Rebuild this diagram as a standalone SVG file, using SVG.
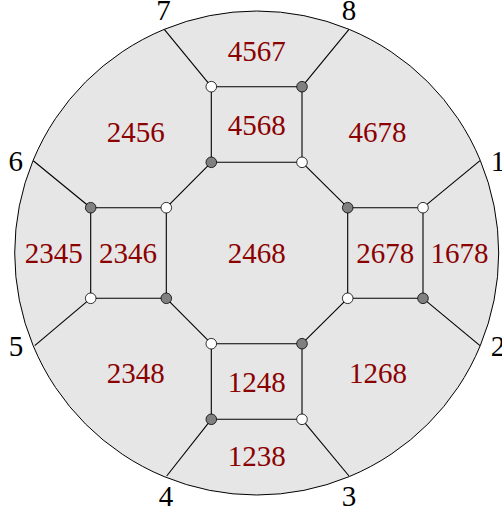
<svg xmlns="http://www.w3.org/2000/svg" width="502" height="514" viewBox="0 0 502 514">
<style>
.lbl{font-family:"Liberation Serif","DejaVu Serif",serif;font-size:29px;fill:#8b0000;text-anchor:middle}
.num{font-family:"Liberation Serif","DejaVu Serif",serif;font-size:29px;fill:#000;text-anchor:middle}
.e{stroke:#000;stroke-width:1.1;fill:none}
.w{fill:#fff;stroke:#000;stroke-width:0.8}
.g{fill:#808080;stroke:#000;stroke-width:0.8}
</style>
<rect width="502" height="514" fill="#fff"/>
<circle id="disk" cx="256.7" cy="253" r="242" fill="#e6e6e6" stroke="#000" stroke-width="1"/>
<g id="connectors" class="e">
<polyline points="211.3,86.7 302,86.7 302,162.3 211.3,162.3 211.3,86.7"/>
<polyline points="90.7,207.7 166.3,207.7 166.3,298.3 90.7,298.3 90.7,207.7"/>
<polyline points="347.7,207.7 423,207.7 423,298.3 347.7,298.3 347.7,207.7"/>
<polyline points="211.3,343.7 302,343.7 302,419.3 211.3,419.3 211.3,343.7"/>
<line x1="211.3" y1="162.3" x2="166.3" y2="207.7"/>
<line x1="302" y1="162.3" x2="347.7" y2="207.7"/>
<line x1="166.3" y1="298.3" x2="211.3" y2="343.7"/>
<line x1="347.7" y1="298.3" x2="302" y2="343.7"/>
<line x1="211.3" y1="86.7" x2="164.3" y2="29.3"/>
<line x1="302" y1="86.7" x2="349" y2="29.3"/>
<line x1="90.7" y1="207.7" x2="33.3" y2="160.7"/>
<line x1="90.7" y1="298.3" x2="34.7" y2="345.7"/>
<line x1="423" y1="207.7" x2="480" y2="160.7"/>
<line x1="423" y1="298.3" x2="480" y2="345.7"/>
<line x1="211.3" y1="419.3" x2="166.7" y2="476"/>
<line x1="302" y1="419.3" x2="349" y2="476"/>
</g>
<g id="n-top"><circle class="w" cx="211.3" cy="86.7" r="5.3"/><circle class="g" cx="302" cy="86.7" r="5.3"/><circle class="g" cx="211.3" cy="162.3" r="5.3"/><circle class="w" cx="302" cy="162.3" r="5.3"/></g>
<g id="n-left"><circle class="g" cx="90.7" cy="207.7" r="5.3"/><circle class="w" cx="166.3" cy="207.7" r="5.3"/><circle class="w" cx="90.7" cy="298.3" r="5.3"/><circle class="g" cx="166.3" cy="298.3" r="5.3"/></g>
<g id="n-right"><circle class="g" cx="347.7" cy="207.7" r="5.3"/><circle class="w" cx="423" cy="207.7" r="5.3"/><circle class="w" cx="347.7" cy="298.3" r="5.3"/><circle class="g" cx="423" cy="298.3" r="5.3"/></g>
<g id="n-bottom"><circle class="w" cx="211.3" cy="343.7" r="5.3"/><circle class="g" cx="302" cy="343.7" r="5.3"/><circle class="g" cx="211.3" cy="419.3" r="5.3"/><circle class="w" cx="302" cy="419.3" r="5.3"/></g>
<g id="faces">
<text class="lbl" x="256.7" y="60.5">4567</text>
<text class="lbl" x="256.7" y="135">4568</text>
<text class="lbl" x="135.7" y="141.5">2456</text>
<text class="lbl" x="377.5" y="141.5">4678</text>
<text class="lbl" x="53.8" y="262.5">2345</text>
<text class="lbl" x="128" y="262.5">2346</text>
<text class="lbl" x="256.7" y="262.5">2468</text>
<text class="lbl" x="385.3" y="262.5">2678</text>
<text class="lbl" x="459.5" y="262.5">1678</text>
<text class="lbl" x="135.7" y="383.3">2348</text>
<text class="lbl" x="378" y="383.3">1268</text>
<text class="lbl" x="256.7" y="391.5">1248</text>
<text class="lbl" x="256.7" y="465.5">1238</text>
</g>
<g id="boundary-labels">
<text class="num" x="163.5" y="20">7</text>
<text class="num" x="349" y="20">8</text>
<text class="num" x="15.7" y="170.5">6</text>
<text class="num" x="498" y="170.5">1</text>
<text class="num" x="16" y="356">5</text>
<text class="num" x="498" y="356">2</text>
<text class="num" x="166" y="506">4</text>
<text class="num" x="349" y="506">3</text>
</g>
</svg>
